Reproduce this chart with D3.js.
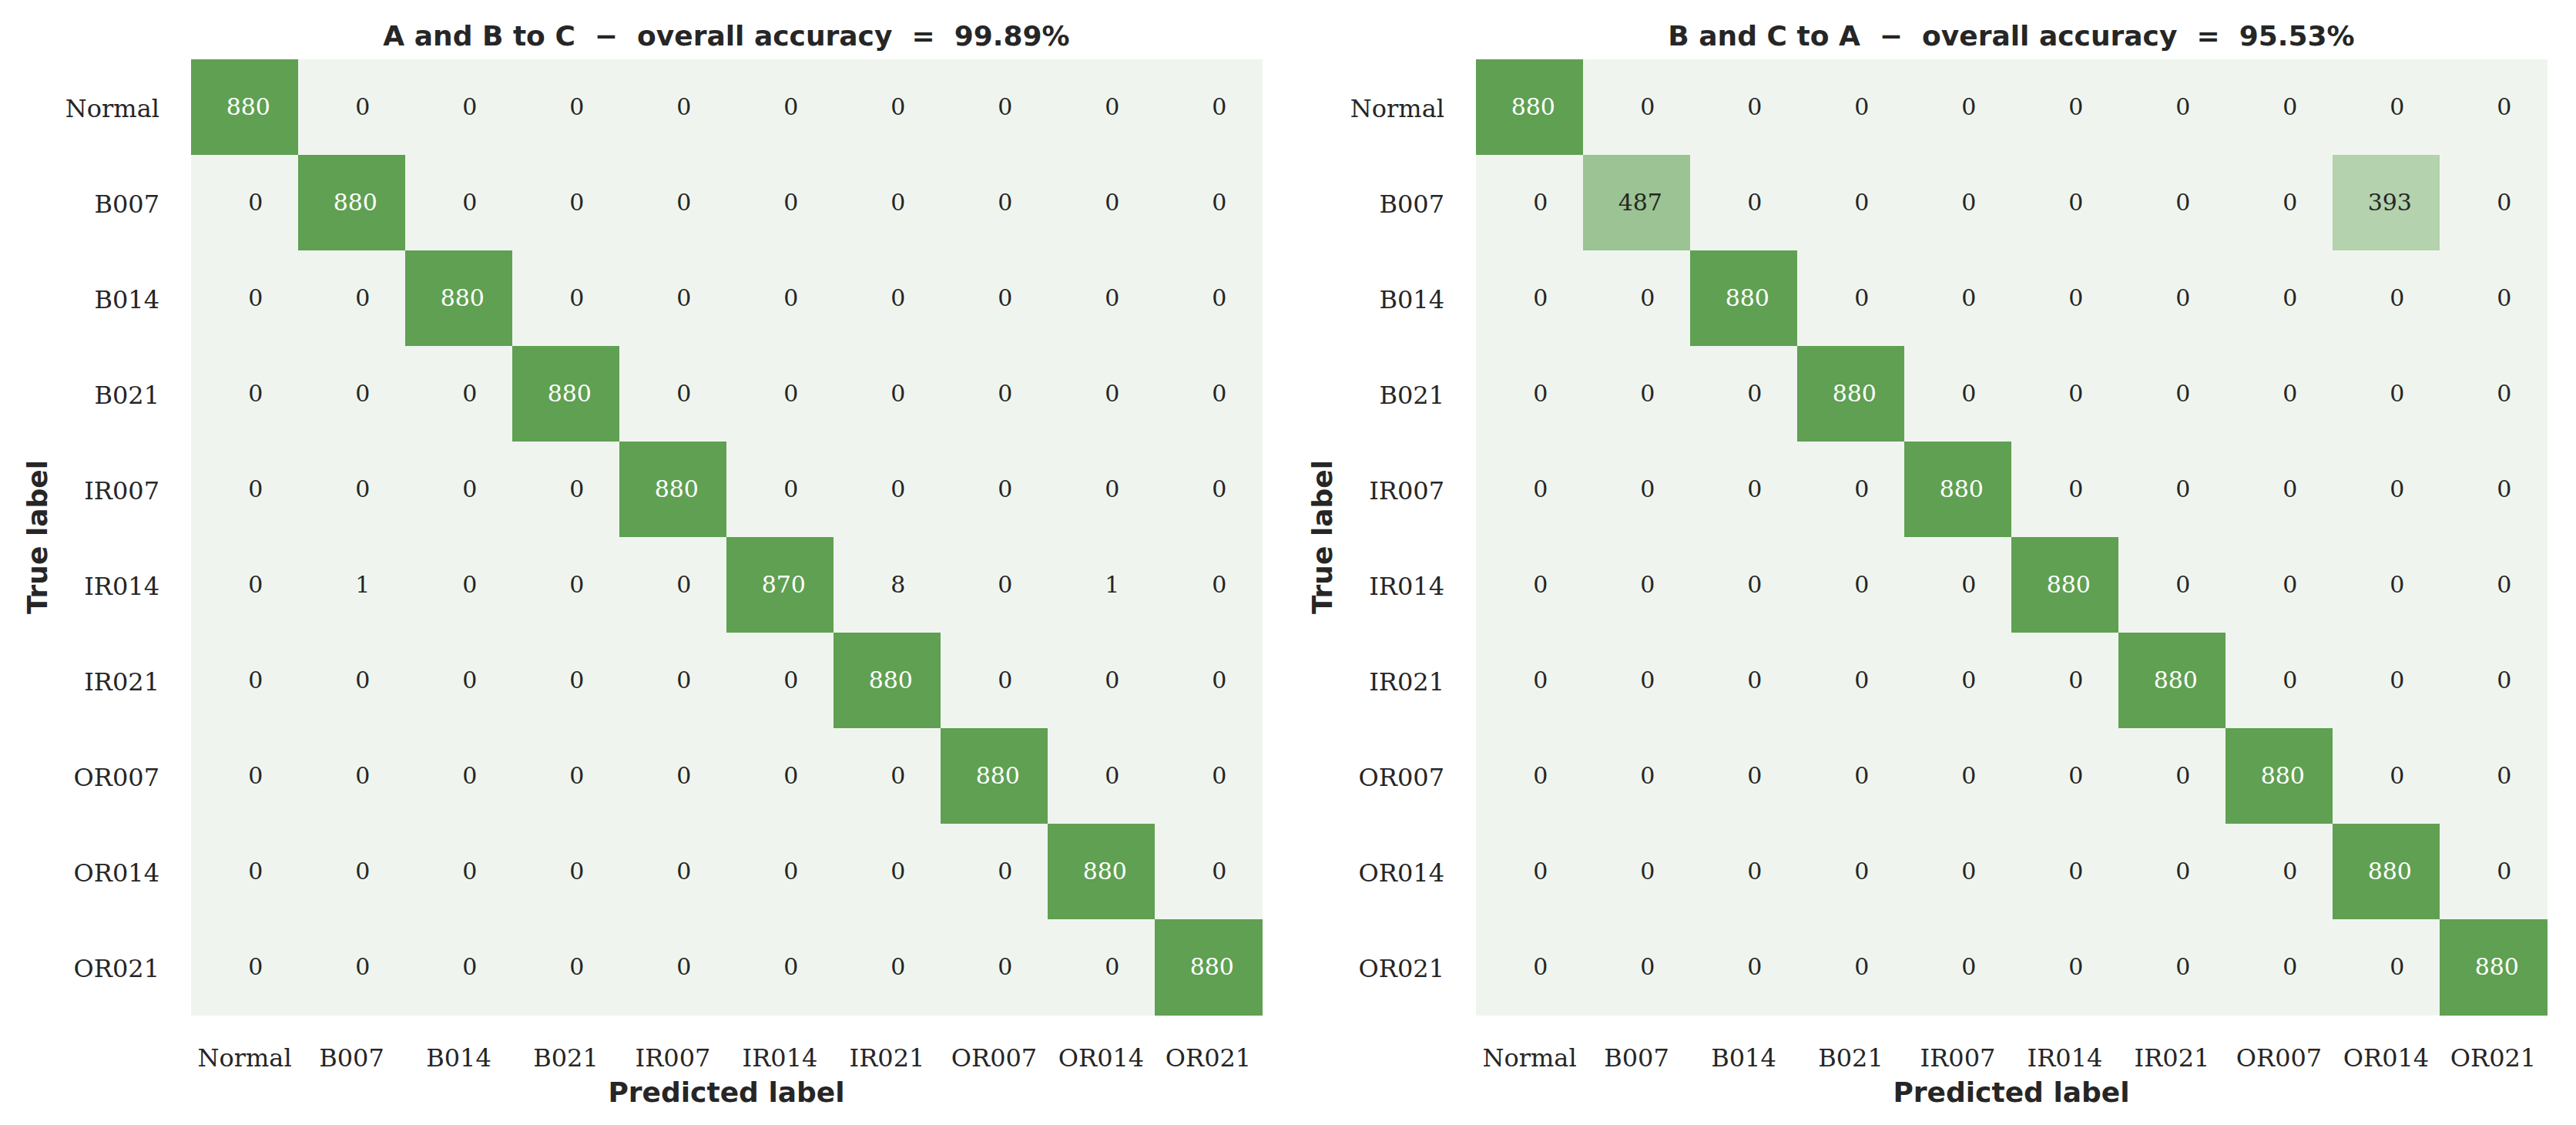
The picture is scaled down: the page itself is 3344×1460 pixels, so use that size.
<!DOCTYPE html>
<html>
<head>
<meta charset="utf-8">
<script src="https://cdn.jsdelivr.net/npm/d3@7"></script>
<style>
  html, body { margin: 0; padding: 0; background: #fff; }
  svg { display: block; }
</style>
</head>
<body>
<svg id="chart"></svg>
<script>
const width = 3344;
const height = 1460;

// class labels (rows = true, columns = predicted)
const labels = ["Normal", "B007", "B014", "B021", "IR007", "IR014", "IR021", "OR007", "OR014", "OR021"];

const titles = [
    "A and B to C  \u2212  overall accuracy  =  99.89%",
    "B and C to A  \u2212  overall accuracy  =  95.53%"
];

const matrixABtoC = [
    [880, 0, 0, 0, 0, 0, 0, 0, 0, 0],
    [0, 880, 0, 0, 0, 0, 0, 0, 0, 0],
    [0, 0, 880, 0, 0, 0, 0, 0, 0, 0],
    [0, 0, 0, 880, 0, 0, 0, 0, 0, 0],
    [0, 0, 0, 0, 880, 0, 0, 0, 0, 0],
    [0, 1, 0, 0, 0, 870, 8, 0, 1, 0],
    [0, 0, 0, 0, 0, 0, 880, 0, 0, 0],
    [0, 0, 0, 0, 0, 0, 0, 880, 0, 0],
    [0, 0, 0, 0, 0, 0, 0, 0, 880, 0],
    [0, 0, 0, 0, 0, 0, 0, 0, 0, 880]
];

const matrixBCtoA = [
    [880, 0, 0, 0, 0, 0, 0, 0, 0, 0],
    [0, 487, 0, 0, 0, 0, 0, 0, 393, 0],
    [0, 0, 880, 0, 0, 0, 0, 0, 0, 0],
    [0, 0, 0, 880, 0, 0, 0, 0, 0, 0],
    [0, 0, 0, 0, 880, 0, 0, 0, 0, 0],
    [0, 0, 0, 0, 0, 880, 0, 0, 0, 0],
    [0, 0, 0, 0, 0, 0, 880, 0, 0, 0],
    [0, 0, 0, 0, 0, 0, 0, 880, 0, 0],
    [0, 0, 0, 0, 0, 0, 0, 0, 880, 0],
    [0, 0, 0, 0, 0, 0, 0, 0, 0, 880]
];

const panels = [
    { title: titles[0], matrix: matrixABtoC, left: 248 },
    { title: titles[1], matrix: matrixBCtoA, left: 1916 }
];

const gridTop = 77;
const gridW = 1390;
const gridH = 1240;

const serif = "'DejaVu Serif', serif";
const sans = "'DejaVu Sans', sans-serif";
const textDark = "#262626";

// cell counts are printed right-aligned in a 4-wide field, like "%4d"
const fmt = d3.format("4d");

const svg = d3.select("#chart")
    .attr("width", width)
    .attr("height", height);

function drawPanel(p) {

    const x = d3.scaleBand()
        .domain(labels)
        .range([p.left, p.left + gridW]);

    const y = d3.scaleBand()
        .domain(labels)
        .range([gridTop, gridTop + gridH]);

    const maxVal = d3.max(p.matrix.flat());

    const mix = d3.interpolateRgb("#eff5ee", "#5fa052");
    const color = d3.scaleSequential(t => mix(d3.easeSinInOut(t)))
        .domain([0, maxVal]);

    const cells = [];
    p.matrix.forEach((row, i) => {
        row.forEach((v, j) => {
            cells.push({ t: labels[i], pr: labels[j], v });
        });
    });

    const g = svg.append("g");

    g.selectAll("rect")
        .data(cells)
        .enter()
        .append("rect")
        .attr("x", d => x(d.pr))
        .attr("y", d => y(d.t))
        .attr("width", x.bandwidth() + 0.5)
        .attr("height", y.bandwidth() + 0.5)
        .attr("fill", d => color(d.v))
        .attr("shape-rendering", "crispEdges");

    g.selectAll("text.annot")
        .data(cells)
        .enter()
        .append("text")
        .attr("class", "annot")
        .attr("x", d => x(d.pr) + x.bandwidth() / 2)
        .attr("y", d => y(d.t) + y.bandwidth() / 2)
        .attr("dy", "0.32em")
        .attr("text-anchor", "middle")
        .style("font-family", serif)
        .style("font-size", "30px")
        .style("white-space", "pre")
        .attr("fill", d => {
            const c = d3.hsl(color(d.v));
            return c.l < 0.5 ? "#ffffff" : textDark;
        })
        .text(d => fmt(d.v));

    // axes
    const xAxis = g.append("g")
        .attr("transform", `translate(0,${gridTop + gridH})`)
        .call(d3.axisBottom(x).tickSize(0).tickPadding(44));

    const yAxis = g.append("g")
        .attr("transform", `translate(${p.left},0)`)
        .call(d3.axisLeft(y).tickSize(0).tickPadding(41));

    [xAxis, yAxis].forEach(a => {
        a.select(".domain").remove();
        a.selectAll("text")
            .style("font-family", serif)
            .style("font-size", "32px")
            .attr("fill", textDark);
    });
    yAxis.selectAll("text").attr("dy", "0.42em");

    // title
    g.append("text")
        .attr("x", p.left + gridW / 2)
        .attr("y", 59)
        .attr("text-anchor", "middle")
        .style("font-family", sans)
        .style("font-size", "36px")
        .style("font-weight", "bold")
        .style("white-space", "pre")
        .attr("fill", textDark)
        .text(p.title);

    // x label
    g.append("text")
        .attr("x", p.left + gridW / 2)
        .attr("y", 1430)
        .attr("text-anchor", "middle")
        .style("font-family", sans)
        .style("font-size", "36px")
        .style("font-weight", "bold")
        .attr("fill", textDark)
        .text("Predicted label");

    // y label
    g.append("text")
        .attr("transform", `translate(${p.left - 187},${gridTop + gridH / 2}) rotate(-90)`)
        .attr("text-anchor", "middle")
        .style("font-family", sans)
        .style("font-size", "36px")
        .style("font-weight", "bold")
        .attr("fill", textDark)
        .text("True label");
}

panels.forEach(drawPanel);
</script>
</body>
</html>
